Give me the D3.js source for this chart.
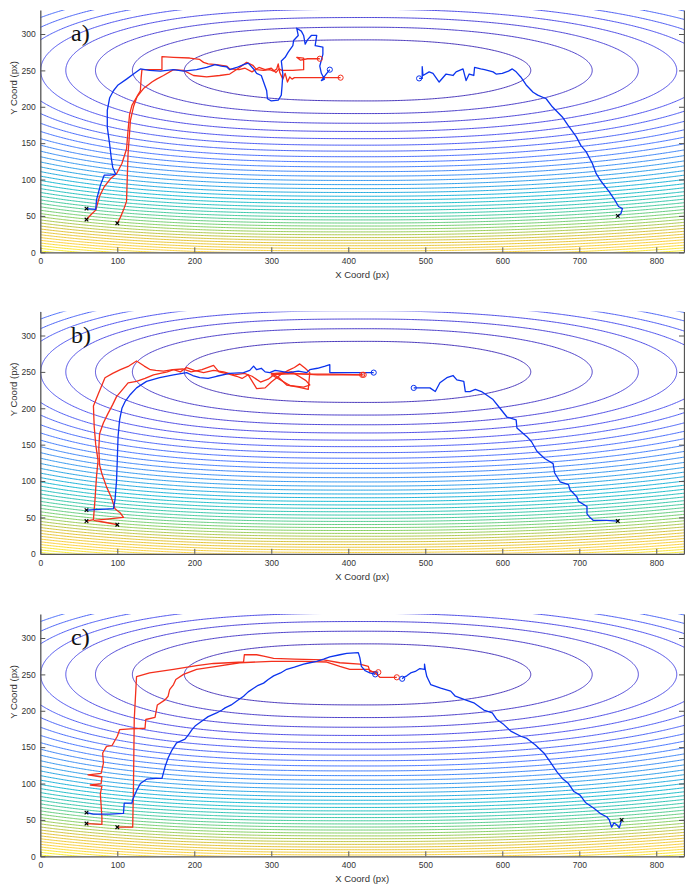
<!DOCTYPE html>
<html>
<head>
<meta charset="utf-8">
<script src="https://cdn.jsdelivr.net/npm/d3@7"></script>
<style>
  body { margin: 0; background: #fff; }
  text { font-family: "Liberation Sans", Arial, sans-serif; }
</style>
</head>
<body>
<svg></svg>
<script>
const width = 685, height = 884;

// tick labels
const xTicks = [0, 100, 200, 300, 400, 500, 600, 700, 800];
const yTicks = [0, 50, 100, 150, 200, 250, 300];
const panelNames = ['a)', 'b)', 'c)'];

// contour field: centre, vertical scale, left/right shape
const fieldCentre = [425, 250];
const fieldVert = 1760;
const fieldLeft = [238, 2.78];
const fieldRight = [212, 2.17];
const contourLevels = [1, 2, 3, 4, 5, 6, 7, 8, 9, 10, 11, 12, 13, 14, 15, 16, 17, 18, 19, 20,
  21, 22, 23, 24, 25, 26, 27, 28, 29, 30, 31, 32, 33, 34, 35, 36, 37, 38, 39, 40, 41];
const levelMax = 40.5;

// parula
const parula = ['#3e26a8', '#4747eb', '#3e6fff', '#2796eb', '#08b5d0', '#31c69f',
  '#80cc59', '#dcbd29', '#fccf30', '#f9fb14'];

// trajectories, panel a
const aBlue1 = [[60,60],[72,59],[73,72],[78,92],[83,106],[90,106],[98,107],[94,117],[92,131],[90,149],[87,172],[87,195],[90,212],[95,222],[101,230],[112,238],[121,245],[130,252],[142,250],[156,249],[173,251],[186,249],[203,251],[216,254],[227,258],[235,256],[242,255],[246,251],[255,254],[264,258],[270,260],[277,252],[281,246],[287,243],[290,234],[294,222],[295,211],[300,208],[309,209],[313,216],[314,229],[315,245],[313,263],[318,268],[322,275],[328,284],[329,291],[335,298],[333,308],[339,304],[342,298],[344,286],[347,292],[352,298],[359,298],[357,284],[362,283],[367,282],[367,272],[363,256],[365,246],[369,238],[365,236],[372,246],[376,251]];
const aBlue2 = [[750,50],[754,53],[756,60],[751,63],[746,72],[739,83],[728,98],[722,108],[717,122],[709,138],[702,147],[696,159],[685,175],[678,186],[665,200],[657,211],[646,216],[640,220],[631,230],[624,241],[618,248],[613,252],[608,249],[600,246],[592,245],[588,248],[577,251],[572,252],[564,254],[563,243],[557,245],[553,236],[549,252],[540,248],[536,243],[527,245],[518,234],[510,246],[505,248],[497,243],[496,255],[496,239],[492,239]];
const aRed1 = [[60,45],[66,52],[72,58],[77,77],[83,90],[91,101],[99,108],[106,122],[112,142],[114,168],[116,190],[119,202],[125,213],[134,225],[145,234],[151,238],[160,243],[173,251],[186,250],[199,243],[216,241],[233,243],[246,245],[256,252],[268,261],[276,257],[281,251],[290,250],[298,251],[303,249],[307,252],[309,259],[311,247],[315,238],[318,246],[321,234],[324,241],[327,238],[330,240],[360,240],[390,240]];
const aRed2 = [[100,40],[104,48],[108,58],[112,70],[113,104],[114,136],[116,165],[117,181],[121,200],[126,215],[130,222],[131,240],[132,251],[145,251],[158,251],[158,269],[173,268],[194,267],[207,265],[212,261],[218,259],[229,258],[242,256],[246,252],[258,251],[266,253],[275,248],[284,254],[292,251],[300,253],[306,247],[310,252],[314,250],[328,250],[342,251],[342,267],[333,268],[338,264],[347,266],[363,266]];

// panel b
const bBlue1 = [[60,60],[78,61],[95,62],[97,74],[99,100],[100,129],[101,161],[103,184],[106,200],[110,209],[117,219],[125,228],[138,237],[155,242],[173,246],[190,249],[198,245],[207,242],[218,241],[229,244],[246,248],[264,249],[272,252],[277,258],[281,253],[287,255],[292,250],[298,249],[305,252],[311,251],[322,249],[335,251],[346,249],[350,253],[360,255],[370,258],[376,260],[376,249],[400,249],[433,249]];
const bBlue2 = [[750,45],[735,46],[718,46],[713,51],[710,55],[710,65],[699,72],[697,78],[688,88],[686,95],[675,99],[668,111],[666,124],[655,131],[645,141],[638,154],[632,161],[619,173],[618,184],[606,188],[597,200],[588,212],[573,223],[565,226],[558,223],[552,223],[550,237],[541,239],[536,245],[528,242],[519,235],[513,223],[506,228],[495,228],[485,228]];
const bRed1 = [[60,45],[69,47],[71,74],[73,106],[75,128],[72,150],[70,175],[69,203],[75,219],[84,242],[94,248],[104,253],[115,258],[125,265],[135,258],[143,253],[150,252],[160,251],[172,253],[185,254],[196,250],[210,253],[225,259],[232,250],[245,247],[255,244],[262,241],[270,246],[281,227],[292,228],[300,236],[312,246],[322,252],[330,256],[337,261],[344,255],[350,249],[348,226],[335,229],[320,232],[310,242],[300,248],[350,247],[380,247],[420,246]];
const bRed2 = [[100,40],[85,43],[70,46],[108,50],[104,56],[97,62],[92,78],[86,92],[80,110],[77,122],[76,145],[77,165],[82,180],[88,193],[94,205],[99,216],[107,226],[114,235],[125,237],[136,241],[147,246],[156,248],[165,250],[173,253],[182,250],[190,256],[200,252],[212,249],[225,252],[238,250],[252,246],[265,248],[275,244],[286,236],[296,240],[306,248],[316,249],[326,250],[336,244],[345,238],[350,232],[342,229],[325,231],[300,246],[330,248],[360,246],[380,246],[418,246]];

// panel c
const cBlue1 = [[60,60],[69,58],[90,58],[108,59],[109,73],[119,73],[120,78],[125,90],[130,100],[138,106],[150,107],[158,107],[160,115],[162,123],[166,135],[171,146],[177,156],[188,161],[193,168],[197,174],[201,179],[210,186],[218,192],[229,197],[236,201],[240,204],[248,208],[256,214],[264,220],[270,226],[277,231],[283,235],[290,238],[296,243],[303,248],[312,252],[320,257],[330,260],[342,264],[350,266],[359,268],[368,271],[376,274],[389,277],[398,279],[413,280],[415,273],[417,261],[422,255],[428,252],[435,250]];
const cBlue2 = [[755,50],[752,39],[749,43],[745,46],[742,40],[739,50],[736,54],[727,59],[719,66],[708,74],[701,84],[693,89],[686,100],[678,107],[671,116],[662,130],[654,142],[643,153],[632,162],[624,165],[611,172],[602,181],[593,188],[587,197],[576,201],[563,211],[552,215],[539,220],[533,227],[520,231],[507,236],[502,247],[500,257],[499,264],[499,257],[493,258],[487,254],[481,252],[476,248],[472,246],[470,244]];
const cRed1 = [[60,45],[80,44],[80,54],[78,86],[80,96],[65,98],[79,100],[80,109],[62,112],[79,114],[82,128],[81,142],[86,151],[93,152],[100,165],[103,174],[117,175],[136,176],[137,188],[149,191],[152,208],[162,215],[166,220],[168,229],[173,236],[176,243],[186,250],[203,257],[229,261],[259,266],[300,268],[340,268],[372,267],[389,261],[402,257],[426,257],[437,250],[441,246],[463,246]];
const cRed2 = [[100,40],[120,40],[121,96],[122,188],[125,247],[142,252],[173,257],[203,262],[225,265],[264,267],[265,277],[281,277],[290,275],[303,272],[330,271],[368,270],[389,266],[415,264],[426,261],[428,254],[439,253]];

const panels = [
  {name: panelNames[0], top: 10, red: [aRed1, aRed2], blue: [aBlue1, aBlue2]},
  {name: panelNames[1], top: 311.5, red: [bRed1, bRed2], blue: [bBlue1, bBlue2]},
  {name: panelNames[2], top: 614, red: [cRed1, cRed2], blue: [cBlue1, cBlue2]}
];

const plotLeft = 40.3, plotRight = 684, plotH = 242.3;
const redColor = '#f42f1c', blueColor = '#0b34ee';

const svg = d3.select('svg')
  .attr('width', width)
  .attr('height', height)
  .style('background', '#fff');

const colour = d3.scaleLinear()
  .domain(parula.map((c, i) => i / (parula.length - 1)))
  .range(parula)
  .clamp(true);

// build the field grid once
const gx0 = -20, gy0 = -20, gstepX = 2, gstepY = 1;
const gn = 441, gm = 381;
const field = new Float64Array(gn * gm);
for (let j = 0; j < gm; j++) {
  for (let i = 0; i < gn; i++) {
    const dx = gx0 + i * gstepX - fieldCentre[0];
    const dy = gy0 + j * gstepY - fieldCentre[1];
    const h = dx < 0 ? Math.pow(-dx / fieldLeft[0], fieldLeft[1]) : Math.pow(dx / fieldRight[0], fieldRight[1]);
    field[j * gn + i] = dy * dy / fieldVert + h;
  }
}
const contours = d3.contours().size([gn, gm]).thresholds(contourLevels)(field);

panels.forEach((p, pi) => {
  const x = d3.scaleLinear().domain([0, 836]).range([plotLeft, plotRight]);
  const y = d3.scaleLinear().domain([0, 333]).range([p.top + plotH, p.top]);

  const g = svg.append('g');

  const clipId = 'clip' + pi;
  svg.append('clipPath').attr('id', clipId)
    .append('rect')
    .attr('x', plotLeft).attr('y', p.top)
    .attr('width', plotRight - plotLeft).attr('height', plotH);

  const proj = d3.geoTransform({
    point(gxv, gyv) {
      this.stream.point(x(gx0 + (gxv - 0.5) * gstepX), y(gy0 + (gyv - 0.5) * gstepY));
    }
  });
  const geo = d3.geoPath(proj);

  g.append('g').attr('clip-path', `url(#${clipId})`)
    .selectAll('path').data(contours)
    .enter().append('path')
    .attr('d', geo)
    .attr('fill', 'none')
    .attr('stroke', d => colour(d.value / levelMax))
    .attr('stroke-width', 0.95);

  // axes
  const ax = g.append('g')
    .attr('transform', `translate(0,${p.top + plotH})`)
    .call(d3.axisBottom(x).tickValues(xTicks).tickSize(-5).tickSizeOuter(0).tickPadding(6));
  const ay = g.append('g')
    .attr('transform', `translate(${plotLeft},0)`)
    .call(d3.axisLeft(y).tickValues(yTicks).tickSize(-5).tickSizeOuter(0).tickPadding(4.5));
  const ar = g.append('g')
    .attr('transform', `translate(${plotRight},0)`)
    .call(d3.axisRight(y).tickValues(yTicks).tickSize(-5).tickSizeOuter(0).tickFormat(''));
  [ax, ay, ar].forEach(a => {
    a.select('.domain').attr('stroke', '#555').attr('stroke-width', 1.3);
    a.selectAll('.tick line').attr('stroke', '#555').attr('stroke-width', 1);
    a.selectAll('.tick text').attr('fill', '#333').style('font-size', '8.5px');
  });

  g.append('text')
    .attr('x', (plotLeft + plotRight) / 2)
    .attr('y', p.top + plotH + 26)
    .attr('text-anchor', 'middle')
    .attr('fill', '#333')
    .style('font-size', '9.5px')
    .text('X Coord (px)');

  g.append('text')
    .attr('transform', `translate(17,${p.top + 78}) rotate(-90)`)
    .attr('text-anchor', 'middle')
    .attr('fill', '#333')
    .style('font-size', '9.5px')
    .text('Y Coord (px)');

  g.append('text')
    .attr('x', 71)
    .attr('y', p.top + 31)
    .style('font-family', '"Liberation Serif", "Times New Roman", serif')
    .style('font-size', '24px')
    .attr('fill', '#111')
    .text(p.name);

  // trajectories
  const line = d3.line().x(d => x(d[0])).y(d => y(d[1]));
  const tracks = p.red.map(t => ({pts: t, c: redColor})).concat(p.blue.map(t => ({pts: t, c: blueColor})));

  g.selectAll('path.track').data(tracks)
    .enter().append('path')
    .attr('class', 'track')
    .attr('d', d => line(d.pts))
    .attr('fill', 'none')
    .attr('stroke', d => d.c)
    .attr('stroke-width', 1.3)
    .attr('stroke-linejoin', 'round');

  g.selectAll('circle.end').data(tracks)
    .enter().append('circle')
    .attr('class', 'end')
    .attr('cx', d => x(d.pts[d.pts.length - 1][0]))
    .attr('cy', d => y(d.pts[d.pts.length - 1][1]))
    .attr('r', 2.6)
    .attr('fill', 'none')
    .attr('stroke', d => d.c)
    .attr('stroke-width', 1);

  g.selectAll('path.start').data(tracks)
    .enter().append('path')
    .attr('class', 'start')
    .attr('d', d => {
      const cx = x(d.pts[0][0]), cy = y(d.pts[0][1]), s = 1.8;
      return `M${cx - s},${cy - s}L${cx + s},${cy + s}M${cx - s},${cy + s}L${cx + s},${cy - s}`;
    })
    .attr('stroke', '#000')
    .attr('stroke-width', 1.1);
});
</script>
</body>
</html>
